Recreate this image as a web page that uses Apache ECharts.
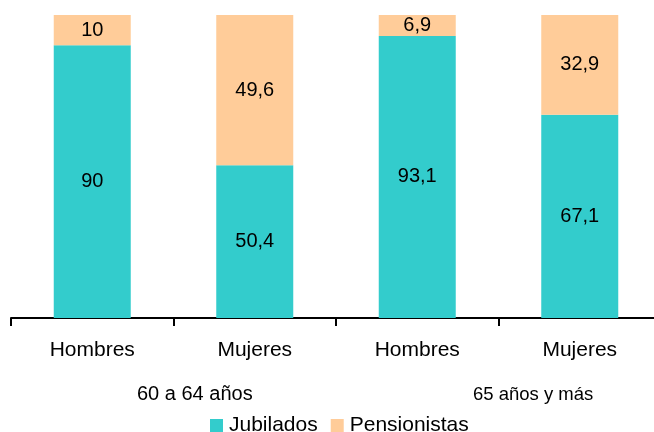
<!DOCTYPE html>
<html lang="es">
<head>
<meta charset="UTF-8">
<title>Jubilados y pensionistas</title>
<style type="text/css">
  html, body { margin: 0; background-color: #fff; overflow: hidden; }
  #chart { width: 672px; height: 432px; }
</style>
</head>
<body>
<div id="chart"></div>
<script src="https://cdn.jsdelivr.net/npm/echarts@6/dist/echarts.min.js"></script>
<script type="text/javascript">
var categories = ['Hombres', 'Mujeres', 'Hombres', 'Mujeres'];
var jubilados = [90, 50.4, 93.1, 67.1];
var pensionistas = [10, 49.6, 6.9, 32.9];
var groups = ['60 a 64 años', '65 años y más'];

var fontFam = 'Liberation Sans, Arial, sans-serif';

function comma(p) {
    return String(p.value).replace('.', ',');
}

var myChart = echarts.init(document.getElementById('chart'));
var option = {
    animation: false,
    textStyle: { fontFamily: fontFam },
    // the axis runs past the right edge of the picture
    grid: { left: 11, top: 15, width: 650, height: 303 },
    legend: {
        data: ['Jubilados', 'Pensionistas'],
        left: 205,
        top: 410,
        itemWidth: 13,
        itemHeight: 13,
        itemGap: 13,
        icon: 'rect',
        textStyle: { fontSize: 21, color: '#000', fontFamily: fontFam, padding: [0, 0, 0, 1] }
    },
    xAxis: {
        type: 'category',
        data: categories,
        axisLine: { lineStyle: { color: '#000', width: 2 } },
        axisTick: { show: true, interval: 0, length: 8, lineStyle: { color: '#000', width: 2 } },
        axisLabel: { fontSize: 21, color: '#000', margin: 22, fontFamily: fontFam }
    },
    yAxis: {
        type: 'value',
        min: 0,
        max: 100,
        show: false,
        splitLine: { show: false }
    },
    graphic: [
        { type: 'text', left: 137, top: 384, style: { text: groups[0], fontSize: 20, fill: '#000', fontFamily: fontFam } },
        { type: 'text', left: 473, top: 385, style: { text: groups[1], fontSize: 18.5, fill: '#000', fontFamily: fontFam } }
    ],
    series: [
        {
            name: 'Jubilados',
            type: 'bar',
            stack: 'total',
            barWidth: 77,
            data: jubilados,
            itemStyle: { color: '#33CCCC' },
            label: { show: true, position: 'inside', fontSize: 20, color: '#000', formatter: comma, fontFamily: fontFam }
        },
        {
            name: 'Pensionistas',
            type: 'bar',
            stack: 'total',
            barWidth: 77,
            data: pensionistas,
            itemStyle: { color: '#FFCC99' },
            label: { show: true, position: 'inside', fontSize: 20, color: '#000', formatter: comma, fontFamily: fontFam }
        }
    ]
};
myChart.setOption(option);
</script>
</body>
</html>
